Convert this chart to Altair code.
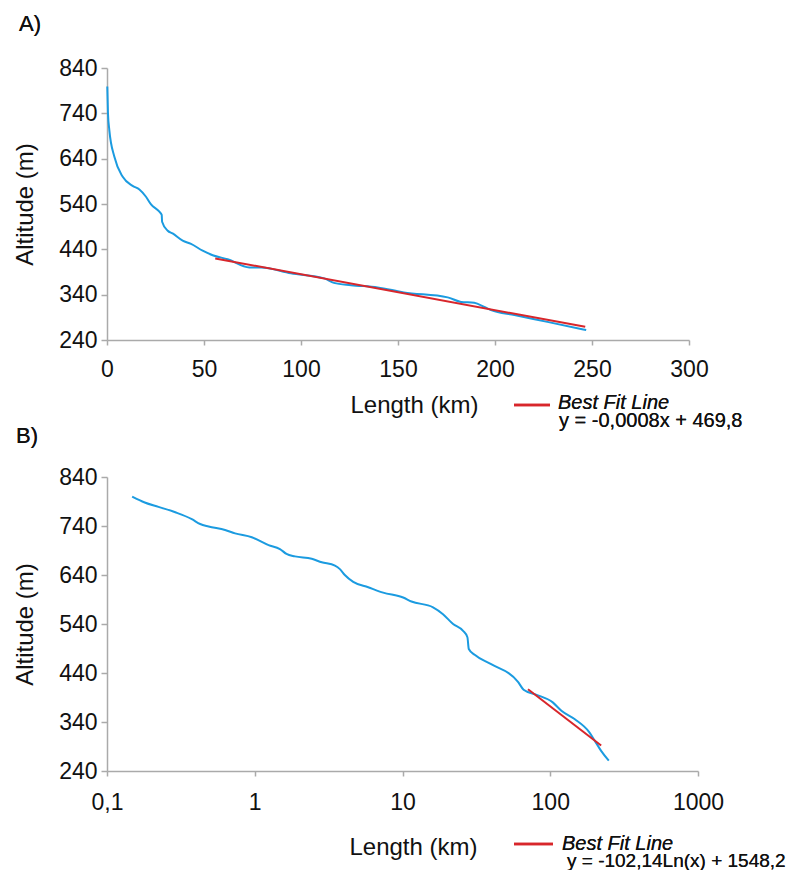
import altair as alt
import pandas as pd

# ---------------- data ----------------
# Panel A (linear length axis)
a_len = [0.15, 0.5, 1.2, 3.8, 8.1, 13.2, 16.7, 20.1, 22.7, 27.0, 28.2, 28.4, 31.3, 33.8,
         39.0, 43.3, 49.3, 54.5, 62.2, 73.4, 79.4, 94.8, 112.0, 117.0, 125.8, 139.5,
         153.0, 175.6, 182.5, 189.3, 194.5, 198.0, 210.0, 227.0, 247.0]
a_alt = [799, 740, 703, 644, 600, 580, 572, 556, 539, 523, 516, 501, 481, 475,
         459, 452, 437, 427, 418, 400, 400, 387, 376, 366, 361, 356,
         345, 334, 324, 322, 313, 306, 295, 280, 262]
a_fit_len = [55.8, 246.5]
a_fit_alt = [420, 269]

# Panel B (logarithmic length axis)
b_len = [0.148, 0.18, 0.223, 0.29, 0.375, 0.427, 0.487, 0.63, 0.736, 0.955, 1.24, 1.48,
         1.64, 1.87, 2.43, 2.84, 3.49, 3.77, 4.07, 4.64, 5.86, 7.4, 10.1, 11.5, 16.1,
         18.8, 22.0, 25.7, 27.5, 28.1, 30.8, 39.8, 60.5, 66.0, 80.0, 104.0, 119.0, 146.0,
         184.0, 200.0, 221.0, 249.0]
b_alt = [800, 788, 779, 768, 754, 744, 739, 732, 725, 717, 701, 693,
         683, 678, 673, 666, 659, 652, 640, 626, 615, 604, 594, 586, 574,
         560, 540, 526, 513, 489, 477, 458, 422, 406, 396, 380, 363, 346,
         319, 302, 281, 261]
b_fit_len = [70.7, 221.0]
b_fit_alt = [407, 292]

y_ticks = [240, 340, 440, 540, 640, 740, 840]
a_x_ticks = [0, 50, 100, 150, 200, 250, 300]
b_x_ticks = [0.1, 1, 10, 100, 1000]

eq_a = "y = -0,0008x + 469,8"
eq_b = "y = -102,14Ln(x) + 1548,2"

BLUE = "#1b9be0"
RED = "#d8262b"
TXT = "#111111"
FONT = "Liberation Sans"

df_a = pd.DataFrame({"len": a_len, "alt": a_alt})
df_af = pd.DataFrame({"len": a_fit_len, "alt": a_fit_alt})
df_b = pd.DataFrame({"len": b_len, "alt": b_alt})
df_bf = pd.DataFrame({"len": b_fit_len, "alt": b_fit_alt})

WA, HA = 582, 272
WB, HB = 591, 294


def y_enc(h):
    return alt.Y("alt:Q", scale=alt.Scale(domain=[240, 840], nice=False, zero=False),
                 axis=alt.Axis(values=y_ticks, title="Altitude (m)", titleX=-82,
                               titleY=h / 2, titleBaseline="middle", titleAngle=270,
                               tickSize=6, labelPadding=4, labelFlush=False))


# ---------------- panel A ----------------
xa = alt.X("len:Q", scale=alt.Scale(domain=[0, 300], nice=False, zero=False),
           axis=alt.Axis(values=a_x_ticks, title="Length (km)", titleX=307, titleY=65,
                         titleBaseline="middle", tickSize=5, labelPadding=13,
                         labelFlush=False))

line_a = alt.Chart(df_a).mark_line(color=BLUE, strokeWidth=2, interpolate="monotone").encode(
    x=xa, y=y_enc(HA))
fit_a = alt.Chart(df_af).mark_line(color=RED, strokeWidth=2).encode(x="len:Q", y="alt:Q")

lab_a = alt.Chart(df_af).mark_text(text="A)", align="left", baseline="alphabetic",
                                   fontSize=22, font=FONT, color=TXT).encode(
    x=alt.value(-88), y=alt.value(-37))
lab_b = alt.Chart(df_af).mark_text(text="B)", align="left", baseline="alphabetic",
                                   fontSize=22, font=FONT, color=TXT).encode(
    x=alt.value(-91), y=alt.value(375))
leg_a_line = alt.Chart(df_af).mark_rule(color=RED, strokeWidth=2.5).encode(
    x=alt.value(407), x2=alt.value(443), y=alt.value(337))
leg_a_t1 = alt.Chart(df_af).mark_text(text="Best Fit Line", align="left", baseline="alphabetic",
                                      fontSize=20, fontStyle="italic", font=FONT, color=TXT).encode(
    x=alt.value(451), y=alt.value(341))
leg_a_t2 = alt.Chart(df_af).mark_text(text=eq_a, align="left", baseline="alphabetic",
                                      fontSize=20, font=FONT, color=TXT).encode(
    x=alt.value(452), y=alt.value(359))

panel_a = alt.layer(line_a, fit_a, lab_a, lab_b, leg_a_line, leg_a_t1, leg_a_t2).properties(
    width=WA, height=HA)

# ---------------- panel B ----------------
xb = alt.X("len:Q", scale=alt.Scale(type="log", domain=[0.1, 1000], nice=False),
           axis=alt.Axis(values=b_x_ticks, title="Length (km)", titleX=306, titleY=76,
                         titleBaseline="middle", tickSize=5, labelPadding=15,
                         labelFlush=False,
                         labelExpr="replace(toString(datum.value), '.', ',')"))

line_b = alt.Chart(df_b).mark_line(color=BLUE, strokeWidth=2, interpolate="monotone").encode(
    x=xb, y=y_enc(HB))
fit_b = alt.Chart(df_bf).mark_line(color=RED, strokeWidth=2).encode(x="len:Q", y="alt:Q")
leg_b_line = alt.Chart(df_bf).mark_rule(color=RED, strokeWidth=2.5).encode(
    x=alt.value(407), x2=alt.value(446), y=alt.value(367))
leg_b_t1 = alt.Chart(df_bf).mark_text(text="Best Fit Line", align="left", baseline="alphabetic",
                                      fontSize=20, fontStyle="italic", font=FONT, color=TXT).encode(
    x=alt.value(455), y=alt.value(373))
leg_b_t2 = alt.Chart(df_bf).mark_text(text=eq_b, align="left", baseline="alphabetic",
                                      fontSize=19, font=FONT, color=TXT).encode(
    x=alt.value(460), y=alt.value(390))

panel_b = alt.layer(line_b, fit_b, leg_b_line, leg_b_t1, leg_b_t2).properties(
    width=WB, height=HB)

chart = alt.vconcat(panel_a, panel_b, spacing=19).properties(
    padding={"left": 5, "top": 5, "right": 0, "bottom": 0},
    background="white"
).configure_view(strokeWidth=0).configure_axis(
    grid=False, domainColor="#aaaaaa", tickColor="#aaaaaa", domainWidth=1.5, tickWidth=1.5,
    labelFont=FONT, labelFontSize=23, labelColor=TXT,
    titleFont=FONT, titleFontSize=24, titleFontWeight="normal", titleColor=TXT
)

chart.save("out.html", embed_options={"renderer": "svg", "actions": False})
